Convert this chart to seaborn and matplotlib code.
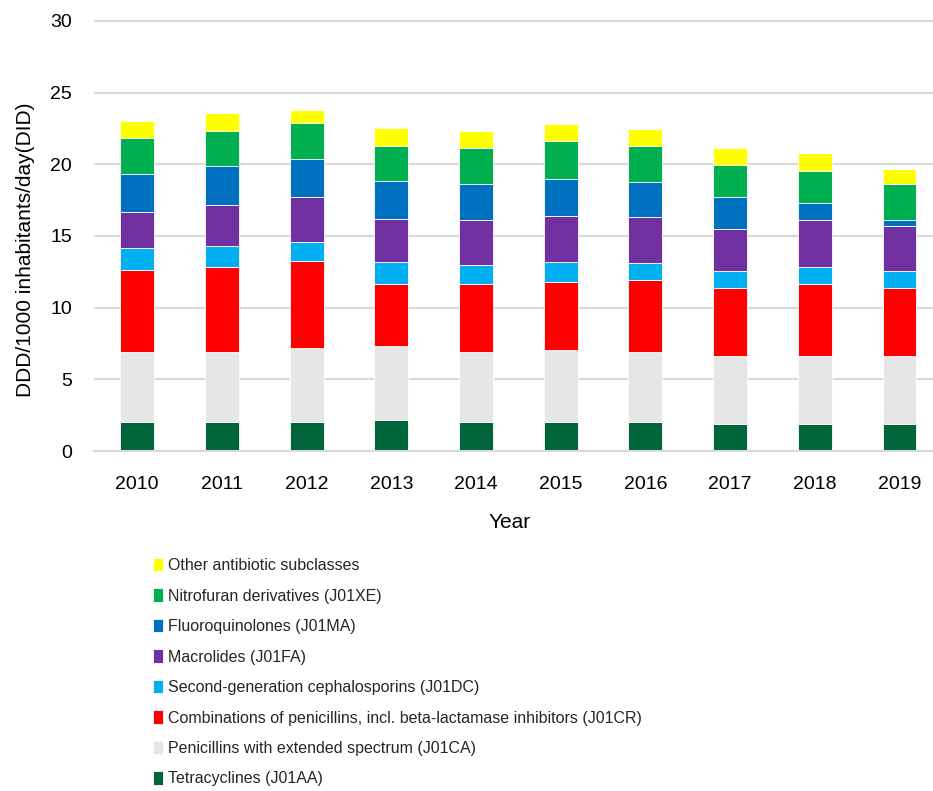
import matplotlib
matplotlib.use("Agg")
import matplotlib.pyplot as plt
import seaborn as sns
import pandas as pd

# Antibiotic consumption per subclass, DDD per 1000 inhabitants per day
years = [2010, 2011, 2012, 2013, 2014, 2015, 2016, 2017, 2018, 2019]

categories = [
    "Other antibiotic subclasses",
    "Nitrofuran derivatives (J01XE)",
    "Fluoroquinolones (J01MA)",
    "Macrolides (J01FA)",
    "Second-generation cephalosporins (J01DC)",
    "Combinations of penicillins, incl. beta-lactamase inhibitors (J01CR)",
    "Penicillins with extended spectrum (J01CA)",
    "Tetracyclines (J01AA)",
]

other = [1.2, 1.2, 0.9, 1.2, 1.2, 1.2, 1.2, 1.15, 1.2, 1.05]
nitrofuran = [2.5, 2.5, 2.5, 2.5, 2.5, 2.65, 2.5, 2.25, 2.25, 2.55]
fluoroquinolones = [2.65, 2.7, 2.65, 2.65, 2.5, 2.55, 2.4, 2.2, 1.2, 0.4]
macrolides = [2.55, 2.85, 3.1, 3.0, 3.1, 3.25, 3.25, 2.95, 3.25, 3.15]
cephalosporins_2g = [1.5, 1.5, 1.35, 1.5, 1.35, 1.35, 1.2, 1.2, 1.2, 1.2]
penicillin_combos = [5.75, 5.9, 6.05, 4.3, 4.75, 4.75, 5.0, 4.75, 5.05, 4.75]
penicillins_ext = [4.9, 4.9, 5.2, 5.2, 4.9, 5.05, 4.9, 4.7, 4.7, 4.7]
tetracyclines = [2.0, 2.0, 2.0, 2.15, 2.0, 2.0, 2.0, 1.9, 1.9, 1.9]

series = [other, nitrofuran, fluoroquinolones, macrolides, cephalosporins_2g,
          penicillin_combos, penicillins_ext, tetracyclines]

colors = ["#FFFF00", "#00B050", "#0070C0", "#7030A0", "#00B0F0",
          "#FF0000", "#E6E6E6", "#00653A"]

rows = []
for cat, vals in zip(categories, series):
    for y, v in zip(years, vals):
        rows.append({"Year": y, "Subclass": cat, "DID": v})
df = pd.DataFrame(rows)

sns.set_theme(style="white")
plt.rcParams["font.family"] = ["Liberation Sans", "DejaVu Sans"]

fig = plt.figure(figsize=(9.33, 7.91), dpi=100)
ax = fig.add_axes([94 / 933, 1 - 451 / 791, (941 - 94) / 933, (451 - 20) / 791])

sns.histplot(
    data=df, x="Year", weights="DID", hue="Subclass",
    hue_order=categories, palette=dict(zip(categories, colors)),
    multiple="stack", discrete=True, shrink=0.4,
    alpha=1, edgecolor="white", linewidth=0.6, ax=ax,
)

ax.set_xlim(2009.49, 2019.49)
ax.set_ylim(0, 30.06)
ax.set_xticks(years)
ax.set_xticklabels([str(y) for y in years])
ax.set_yticks([0, 5, 10, 15, 20, 25, 30])

ax.set_axisbelow(True)
ax.yaxis.grid(True, color="#D9D9D9", linewidth=1.5)
ax.xaxis.grid(False)
for side in ["top", "right", "left"]:
    ax.spines[side].set_visible(False)
ax.spines["bottom"].set_color("#D9D9D9")
ax.spines["bottom"].set_linewidth(1.5)

ax.tick_params(axis="y", length=0, pad=16, labelsize=14, labelcolor="black")
ax.tick_params(axis="x", length=0, pad=18, labelsize=14, labelcolor="black")

ax.set_ylabel("DDD/1000 inhabitants/day(DID)", fontsize=15, color="black")
ax.yaxis.set_label_coords(26 / 933, 1 - 250 / 791, transform=fig.transFigure)
ax.yaxis.label.set_verticalalignment("center")
ax.set_xlabel("Year", fontsize=15, color="black")
ax.xaxis.set_label_coords(510 / 933, 1 - 522 / 791, transform=fig.transFigure)
ax.xaxis.label.set_verticalalignment("center")

sns.move_legend(
    ax, loc="upper left",
    bbox_to_anchor=(153 / 933, 1 - 558 / 791),
    bbox_transform=fig.transFigure,
    title=None, frameon=False, borderpad=0, borderaxespad=0,
    handlelength=0.62, handleheight=0.9, handletextpad=0.3,
    labelspacing=0.96,
    prop={"family": "Liberation Sans", "size": 11.5},
)

fig.savefig("out.png", dpi=100)
